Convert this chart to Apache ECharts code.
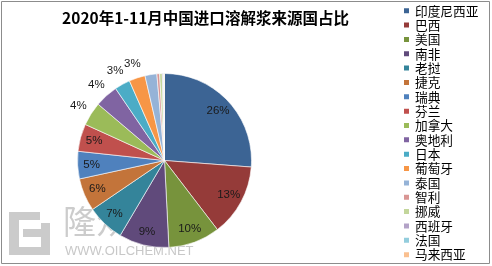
<!DOCTYPE html>
<html>
<head>
<meta charset="utf-8">
<script src="https://cdn.jsdelivr.net/npm/echarts@6/dist/echarts.min.js"></script>
<style>
html,body{margin:0;padding:0;background:#fff;}
#chart{width:492px;height:266px;}
</style>
</head>
<body>
<div id="chart"></div>
<script>
// Data (share of China's dissolving pulp imports, Jan-Nov 2020, %)
var titleText = '2020年1-11月中国进口溶解浆来源国占比';
var countries = ['印度尼西亚','巴西','美国','南非','老挝','捷克','瑞典','芬兰','加拿大','奥地利','日本','葡萄牙','泰国','智利','挪威','西班牙','法国','马来西亚'];
var shares = [26.2, 13.4, 9.6, 9.3, 7.0, 6.1, 5.1, 5.1, 4.4, 4.3, 2.9, 3.0, 2.2, 0.5, 0.5, 0.2, 0.1, 0.1];
var colors = ['#3C6494','#953B39','#77933C','#604A7B','#34849A','#C3743A',
              '#4F81BD','#C0504D','#9BBB59','#8064A2','#4BACC6','#F79646',
              '#95B3D7','#D99694','#C3D69B','#B3A2C7','#93CDDD','#FAC090'];

var CX = 164.5, CY = 160.5, R = 87;

var pieData = countries.map(function (n, i) {
  return { name: n, value: shares[i], itemStyle: { color: colors[i] } };
});
function labelData(test) {
  return countries.map(function (n, i) {
    return { name: n, value: shares[i], label: { show: test(shares[i]) } };
  });
}
var pctFmt = function (p) { return Math.round(p.percent) + '%'; };
var labelStyle = { fontSize: 11.5, color: '#1a1a1a', fontFamily: 'Liberation Sans, Arial, sans-serif', position: 'inside', formatter: pctFmt };

var chart = echarts.init(document.getElementById('chart'), null, { renderer: 'canvas' });
chart.setOption({
  animation: false,
  backgroundColor: '#fff',
  title: {
    text: titleText,
    left: 205.5, top: 10, textAlign: 'center', padding: 0,
    textStyle: { fontSize: 15.5, fontWeight: 'bold', color: '#000', fontFamily: 'Noto Sans CJK SC, sans-serif' }
  },
  legend: {
    orient: 'vertical',
    left: 402, top: 3.7, height: 262, padding: 0,
    itemWidth: 7, itemHeight: 7, itemGap: 0.35,
    icon: 'rect',
    selectedMode: false,
    textStyle: { fontSize: 12.7, lineHeight: 14, color: '#000', fontFamily: 'Noto Sans CJK SC, sans-serif' },
    data: countries.map(function (n, i) { return { name: n, itemStyle: { color: colors[i] } }; })
  },
  graphic: [
    { type: 'rect', z: -10, shape: { x: 9, y: 212, width: 31, height: 8 }, style: { fill: '#cbcbcb' } },
    { type: 'rect', z: -10, shape: { x: 9, y: 212, width: 10, height: 43 }, style: { fill: '#cbcbcb' } },
    { type: 'rect', z: -10, shape: { x: 9, y: 247, width: 41, height: 8 }, style: { fill: '#cbcbcb' } },
    { type: 'rect', z: -10, shape: { x: 41, y: 223, width: 9, height: 32 }, style: { fill: '#cbcbcb' } },
    { type: 'rect', z: -10, shape: { x: 23, y: 229, width: 19, height: 8 }, style: { fill: '#cbcbcb' } },
    { type: 'text', z: -10, left: 63, top: 205, style: { text: '隆众', fontSize: 33, fill: '#cccccc', fontFamily: 'Noto Sans CJK SC, sans-serif' } },
    { type: 'text', z: -10, left: 65, top: 245, style: { text: 'WWW.OILCHEM.NET', fontSize: 13, fill: '#c8c8c8', fontFamily: 'Liberation Sans, Arial, sans-serif' } },
    { type: 'rect', z: 100, silent: true, shape: { x: 1.5, y: 1.5, width: 488, height: 262 }, style: { fill: 'none', stroke: '#8c8c8c', lineWidth: 1 } }
  ],
  series: [
    {
      type: 'pie', center: [CX, CY], radius: R, startAngle: 90, clockwise: true,
      silent: true, avoidLabelOverlap: false,
      label: { show: false }, labelLine: { show: false },
      itemStyle: { borderColor: '#ffffff', borderWidth: 0.6 },
      emphasis: { disabled: true },
      data: pieData
    },
    {
      type: 'pie', center: [CX, CY], radius: [53, R], startAngle: 90, clockwise: true,
      silent: true, avoidLabelOverlap: false,
      itemStyle: { color: 'rgba(0,0,0,0)' },
      label: labelStyle, labelLine: { show: false },
      emphasis: { disabled: true },
      data: labelData(function (v) { return v >= 5; })
    },
    {
      type: 'pie', center: [CX, CY], radius: [R, 111], startAngle: 90, clockwise: true,
      silent: true, avoidLabelOverlap: false,
      itemStyle: { color: 'rgba(0,0,0,0)' },
      label: labelStyle, labelLine: { show: false },
      emphasis: { disabled: true },
      data: labelData(function (v) { return v >= 2.5 && v < 5; })
    }
  ]
});
</script>
</body>
</html>
